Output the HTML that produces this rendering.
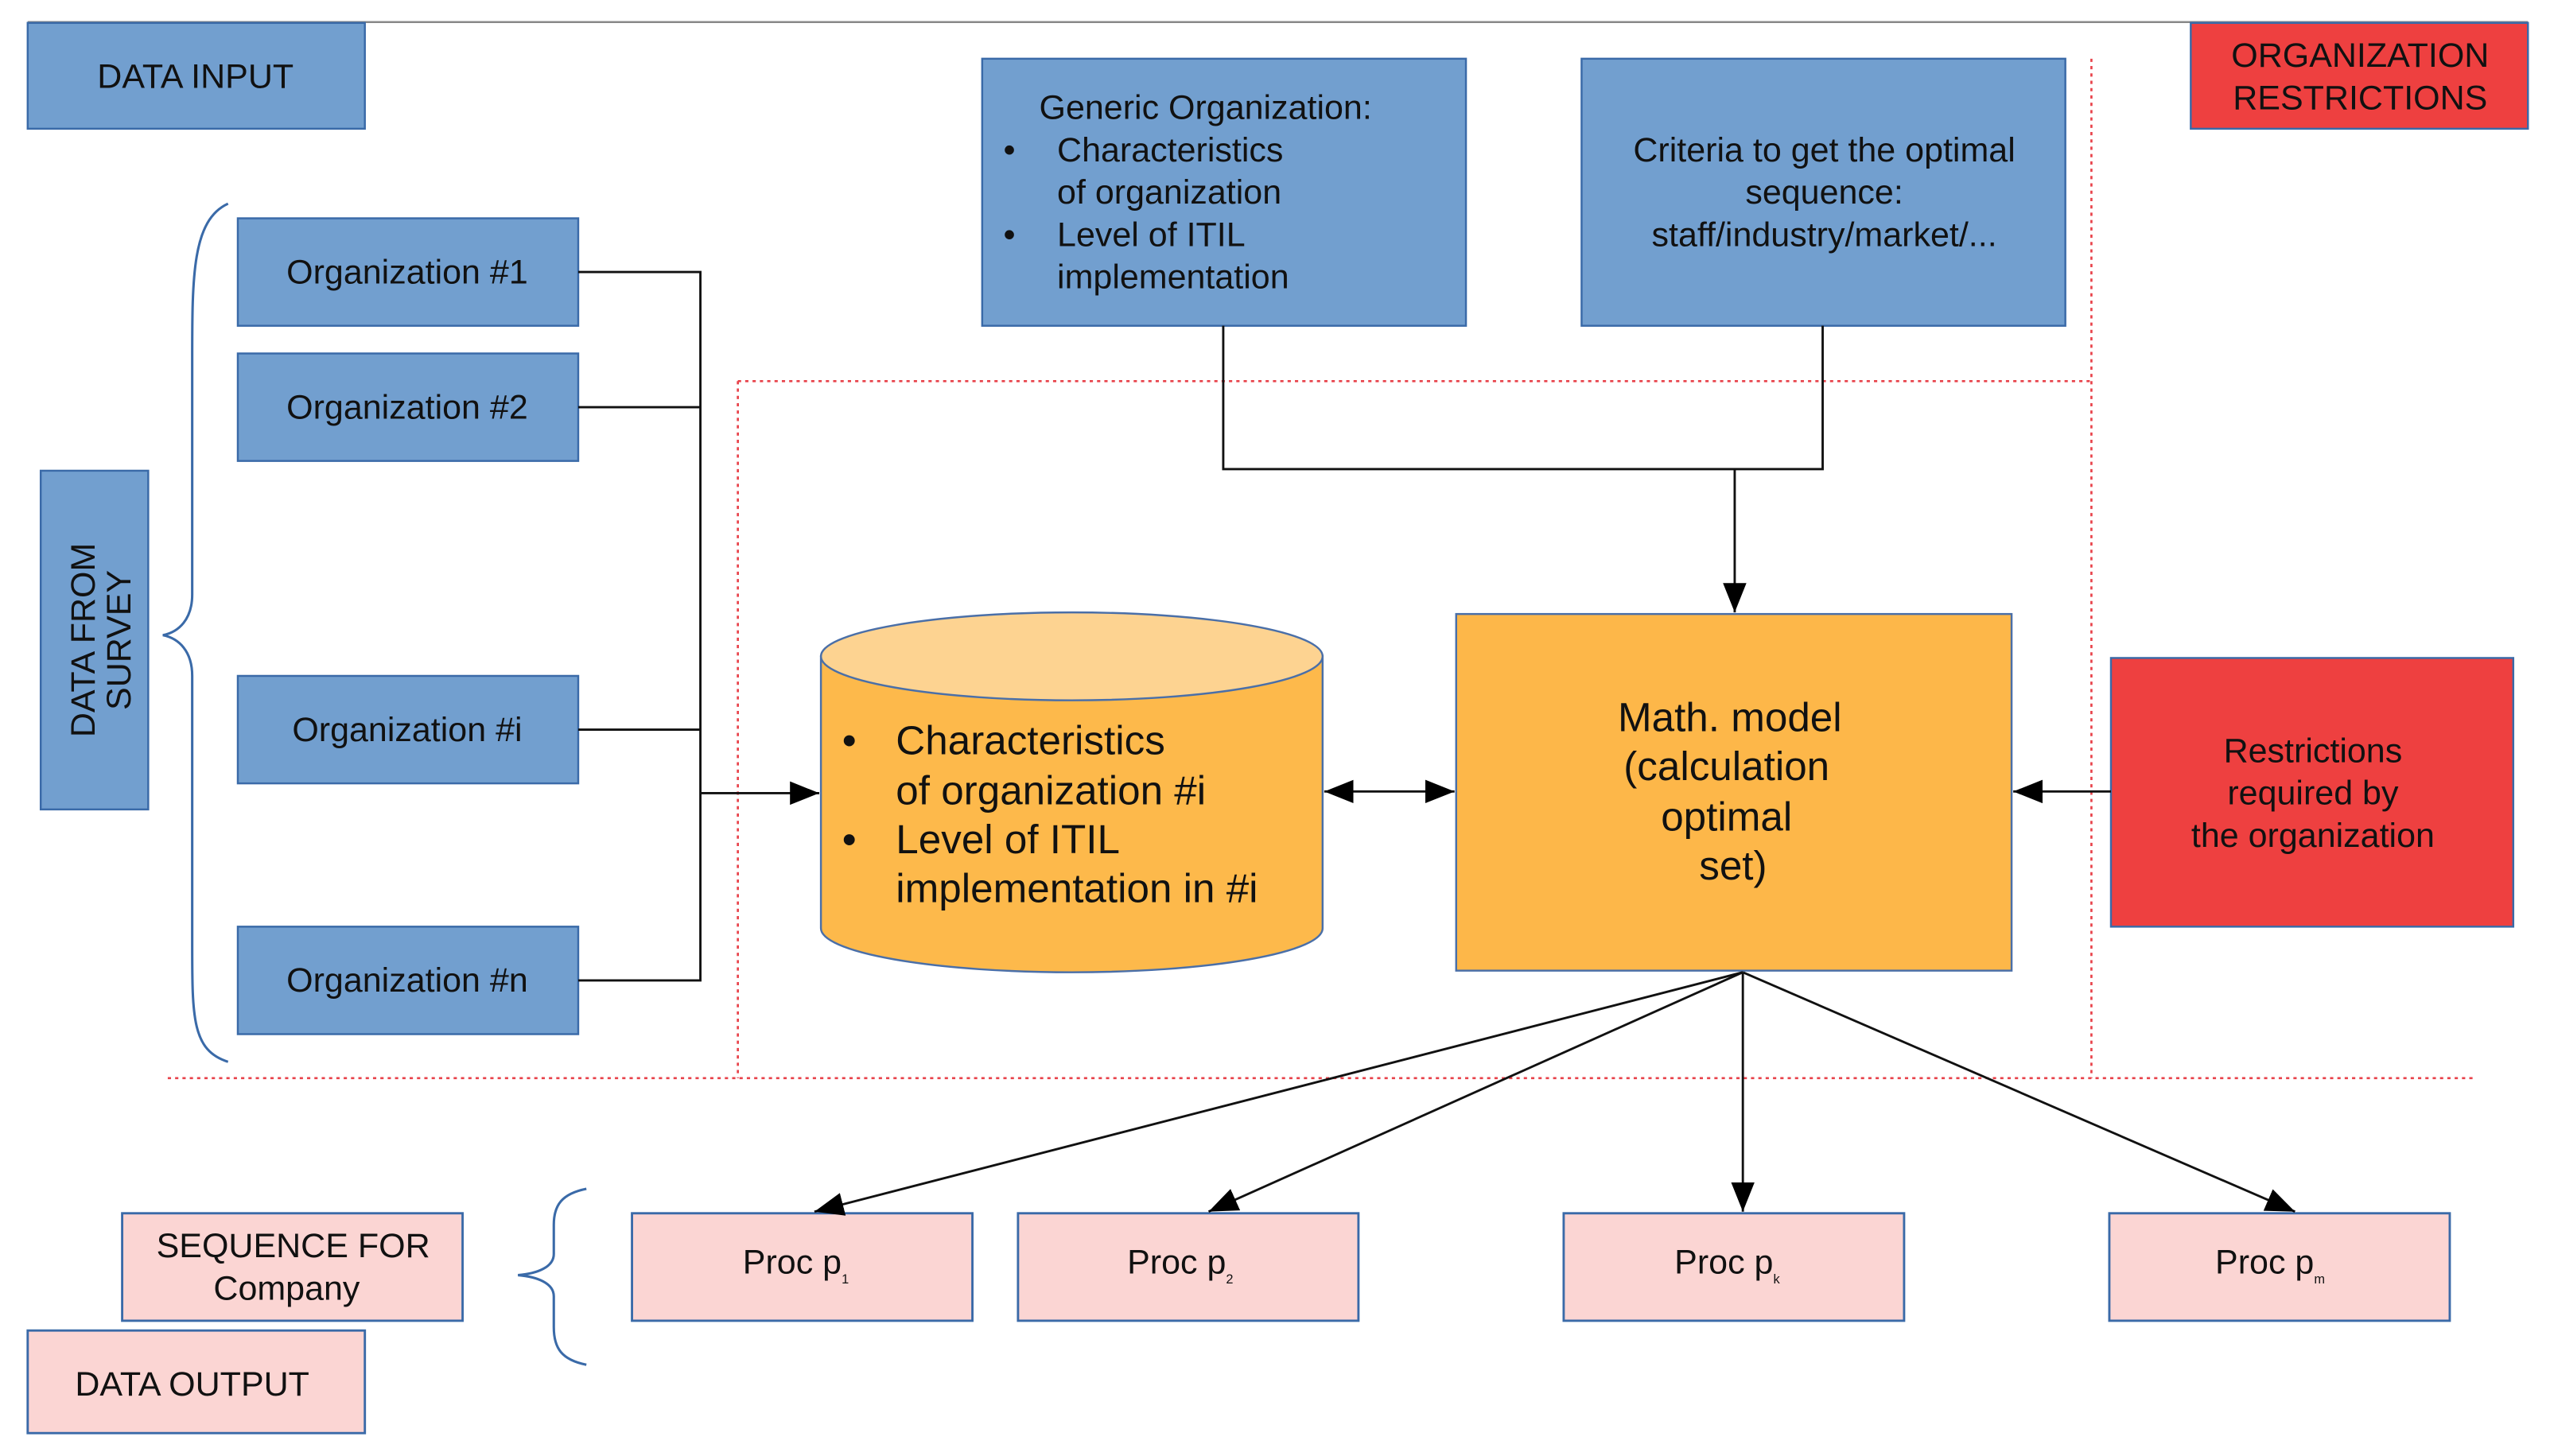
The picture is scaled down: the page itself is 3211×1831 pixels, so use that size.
<!DOCTYPE html>
<html><head><meta charset="utf-8"><style>
html,body{margin:0;padding:0;background:#fff}
svg{display:block}
text{font-family:"Liberation Sans",Arial,sans-serif;fill:#111}
</style></head><body>
<svg width="3211" height="1831" viewBox="0 0 1568 894" xmlns="http://www.w3.org/2000/svg">
<defs>
<marker id="ah" viewBox="0 0 10 10" refX="10" refY="5" markerWidth="18" markerHeight="18" markerUnits="userSpaceOnUse" orient="auto-start-reverse"><path d="M0,1 L10,5 L0,9 z" fill="#000"/></marker>
</defs>
<!-- top line -->
<line x1="17" y1="13.5" x2="1552" y2="13.5" stroke="#888" stroke-width="1.2"/>
<!-- red dotted lines -->
<g stroke="#e8424a" stroke-width="1.3" stroke-dasharray="2,2.5" fill="none">
<line x1="453" y1="234" x2="1284" y2="234"/>
<line x1="453" y1="234" x2="453" y2="662"/>
<line x1="1284" y1="36" x2="1284" y2="662"/>
<line x1="103" y1="662" x2="1520" y2="662"/>
</g>
<!-- blue boxes -->
<g fill="#729fcf" stroke="#3a6aa8" stroke-width="1.2">
<rect x="17" y="14" width="207" height="65"/>
<rect x="603" y="36" width="297" height="164"/>
<rect x="971" y="36" width="297" height="164"/>
<rect x="146" y="134" width="209" height="66"/>
<rect x="146" y="217" width="209" height="66"/>
<rect x="146" y="415" width="209" height="66"/>
<rect x="146" y="569" width="209" height="66"/>
<rect x="25" y="289" width="66" height="208"/>
</g>
<!-- red boxes -->
<g fill="#ee4040" stroke="#3a6aa8" stroke-width="1.2">
<rect x="1345" y="14" width="207" height="65"/>
<rect x="1296" y="404" width="247" height="165"/>
</g>
<!-- pink boxes -->
<g fill="#fbd5d3" stroke="#3a6aa8" stroke-width="1.4">
<rect x="75" y="745" width="209" height="66"/>
<rect x="17" y="817" width="207" height="63"/>
<rect x="388" y="745" width="209" height="66"/>
<rect x="625" y="745" width="209" height="66"/>
<rect x="960" y="745" width="209" height="66"/>
<rect x="1295" y="745" width="209" height="66"/>
</g>
<!-- braces -->
<path d="M140,125 C118,135 118,170 118,220 L118,365 C118,380 110,388 100,390 C110,392 118,400 118,415 L118,580 C118,625 118,645 140,652" fill="none" stroke="#3a6aa8" stroke-width="1.5"/>
<path d="M360,730 C345,733 340,740 340,752 L340,770 C340,778 330,782 318,783 C330,784 340,788 340,796 L340,815 C340,828 345,835 360,838" fill="none" stroke="#3a6aa8" stroke-width="1.5"/>
<!-- cylinder -->
<path d="M504,403 L504,570 A154,27 0 0 0 812,570 L812,403 Z" fill="#fdb94b" stroke="#4a6fa8" stroke-width="1.2"/>
<ellipse cx="658" cy="403" rx="154" ry="27" fill="#fdd391" stroke="#4a6fa8" stroke-width="1.2"/>
<!-- math model -->
<rect x="894" y="377" width="341" height="219" fill="#fdb749" stroke="#4a6fa8" stroke-width="1.2"/>
<!-- connectors -->
<g stroke="#111" stroke-width="1.4" fill="none">
<polyline points="355,167 430,167 430,602 355,602"/>
<line x1="355" y1="250" x2="430" y2="250"/>
<line x1="355" y1="448" x2="430" y2="448"/>
<line x1="430" y1="487" x2="503" y2="487" marker-end="url(#ah)"/>
<line x1="813" y1="486" x2="893" y2="486" marker-start="url(#ah)" marker-end="url(#ah)"/>
<polyline points="751,200 751,288 1119,288 1119,200"/>
<line x1="1065" y1="288" x2="1065" y2="376" marker-end="url(#ah)"/>
<line x1="1296" y1="486" x2="1236" y2="486" marker-end="url(#ah)"/>
<line x1="1070" y1="597" x2="500" y2="744" marker-end="url(#ah)"/>
<line x1="1070" y1="597" x2="742" y2="744" marker-end="url(#ah)"/>
<line x1="1070" y1="597" x2="1070" y2="744" marker-end="url(#ah)"/>
<line x1="1070" y1="597" x2="1409" y2="744" marker-end="url(#ah)"/>
</g>
<!-- text -->
<g font-size="21" text-anchor="middle">
<text x="120" y="54">DATA INPUT</text>
<text x="1449" y="41">ORGANIZATION</text>
<text x="1449" y="67">RESTRICTIONS</text>
<text x="250" y="174">Organization #1</text>
<text x="250" y="257">Organization #2</text>
<text x="250" y="455">Organization #i</text>
<text x="250" y="609">Organization #n</text>
<text x="1120" y="99">Criteria to get the optimal</text>
<text x="1120" y="125">sequence:</text>
<text x="1120" y="151">staff/industry/market/...</text>
<text x="1420" y="468">Restrictions</text>
<text x="1420" y="494">required by</text>
<text x="1420" y="520">the organization</text>
<text x="180" y="772">SEQUENCE FOR</text>
<text x="176" y="798">Company</text>
<text x="118" y="857">DATA OUTPUT</text>
</g>
<g font-size="21" transform="translate(66,393) rotate(-90)" text-anchor="middle">
<text x="0" y="-8">DATA FROM</text>
<text x="0" y="14">SURVEY</text>
</g>
<g font-size="21">
<text x="638" y="73">Generic Organization:</text>
<text x="616" y="99">•</text><text x="649" y="99">Characteristics</text>
<text x="649" y="125">of organization</text>
<text x="616" y="151">•</text><text x="649" y="151">Level of ITIL</text>
<text x="649" y="177">implementation</text>
<text x="456" y="782">Proc p<tspan font-size="8" dy="6">1</tspan></text>
<text x="692" y="782">Proc p<tspan font-size="8" dy="6">2</tspan></text>
<text x="1028" y="782">Proc p<tspan font-size="8" dy="6">k</tspan></text>
<text x="1360" y="782">Proc p<tspan font-size="8" dy="6">m</tspan></text>
</g>
<g font-size="25">
<text x="517" y="463">•</text><text x="550" y="463">Characteristics</text>
<text x="550" y="494">of organization #i</text>
<text x="517" y="524">•</text><text x="550" y="524">Level of ITIL</text>
<text x="550" y="554">implementation in #i</text>
</g>
<g font-size="25" text-anchor="middle">
<text x="1062" y="449">Math. model</text>
<text x="1060" y="479">(calculation</text>
<text x="1060" y="510">optimal</text>
<text x="1064" y="540">set)</text>
</g>
</svg>
</body></html>
